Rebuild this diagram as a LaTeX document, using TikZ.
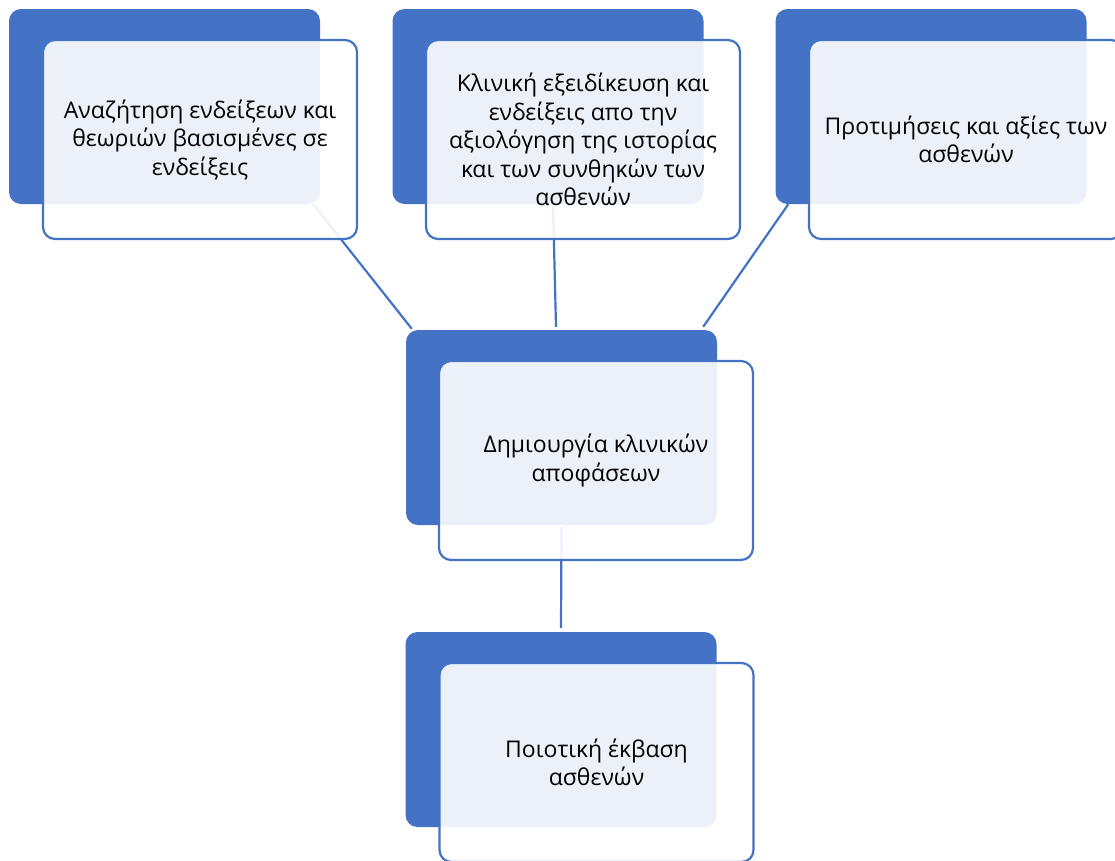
\documentclass[tikz,border=0pt]{standalone}
\usepackage{fontspec}
\setmainfont{Open Sans}
\definecolor{accent}{HTML}{4472C4}
\begin{document}
\begin{tikzpicture}[x=1pt,y=-1pt,
  backbox/.style={draw=none,fill=accent,rounded corners=12pt,inner sep=0pt,
    minimum width=311pt,minimum height=195pt},
  frontbox/.style={draw=accent,line width=2.2pt,fill=white,fill opacity=0.9,text opacity=1,
    rounded corners=12pt,inner sep=0pt,minimum width=314pt,minimum height=199pt,
    align=center,font=\fontsize{23}{28.5}\selectfont},
  link/.style={draw=accent,line width=2.2pt}]
\useasboundingbox (0,0) rectangle (1115,860);
% back boxes
\node[backbox] (d1) at (164.5,106.5) {};
\node[backbox] (d2) at (548,106.5) {};
\node[backbox] (d3) at (931,106.5) {};
\node[backbox] (d4) at (561.5,427.5) {};
\node[backbox] (d5) at (561,729.5) {};
% connectors
\draw[link] ([xshift=-7pt]d1.south east) -- ([xshift=6pt,yshift=1pt]d4.north west);
\draw[link] ([xshift=5pt]d2.south) -- ([xshift=-5.5pt,yshift=3pt]d4.north);
\draw[link] ([xshift=13pt]d3.south west) -- ([xshift=-14pt,yshift=3pt]d4.north east);
\draw[link] ([yshift=-2pt]d4.south) -- ([yshift=4pt]d5.north);
% front boxes
\node[frontbox] (f1) at (200,139.5) {Αναζήτηση ενδείξεων και\\θεωριών βασισμένες σε\\ενδείξεις};
\node[frontbox] (f2) at (583,139.5) {Κλινική εξειδίκευση και\\ενδείξεις απο την\\αξιολόγηση της ιστορίας\\και των συνθηκών των\\ασθενών};
\node[frontbox] (f3) at (966,139.5) {Προτιμήσεις και αξίες των\\ασθενών};
\node[frontbox] (f4) at (596,460.5) {Δημιουργία κλινικών\\αποφάσεων};
\node[frontbox] (f5) at (596.5,762.5) {Ποιοτική έκβαση\\ασθενών};
\end{tikzpicture}
\end{document}
